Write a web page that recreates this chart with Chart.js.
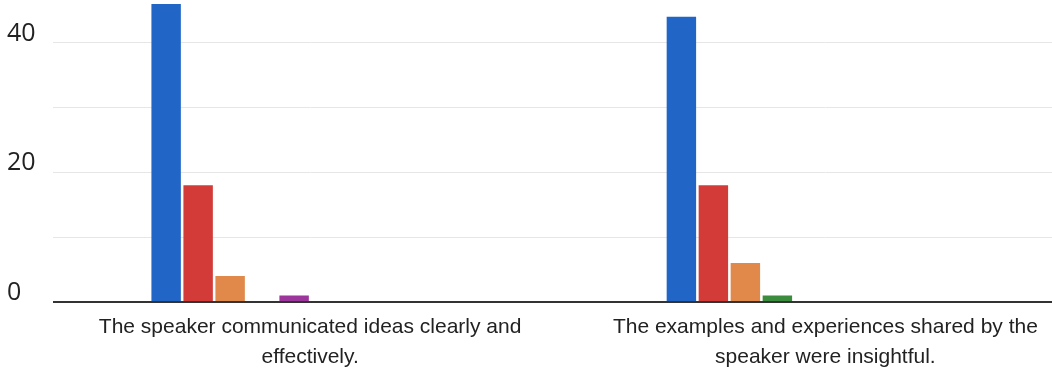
<!DOCTYPE html>
<html>
<head>
<meta charset="utf-8">
<script src="https://cdn.jsdelivr.net/npm/chart.js@4/dist/chart.umd.min.js"></script>
<style>
    html, body { margin: 0; padding: 0; background: #fff; overflow: hidden; width: 1052px; height: 370px; }
    /* the reference is a crop of a wider chart, so the canvas runs past the window */
    #wrap { position: absolute; left: 0; top: -42px; width: 1083px; height: 416px; }
</style>
</head>
<body>
<div id="wrap"><canvas id="surveyChart"></canvas></div>
<script>
const categories = [
    ['The speaker communicated ideas clearly and', 'effectively.'],
    ['The examples and experiences shared by the', 'speaker were insightful.']
];

const seriesNames = ['Option 1', 'Option 2', 'Option 3', 'Option 4', 'Option 5',
    'Option 6', 'Option 7', 'Option 8', 'Option 9', 'Option 10'];
const option1 = [46, 44];
const option2 = [18, 18];
const option3 = [4, 6];
const option4 = [0, 1];
const option5 = [1, 0];
const option6 = [0, 0];
const option7 = [0, 0];
const option8 = [0, 0];
const option9 = [0, 0];
const option10 = [0, 0];

const yTicks = [0, 20, 40];

const seriesValues = [option1, option2, option3, option4, option5, option6, option7, option8, option9, option10];
const seriesColors = ['#2166c6', '#d33b39', '#e0894a', '#3b8c3c', '#9c359c',
    '#0099c6', '#dd4477', '#66aa00', '#b82e2e', '#316395'];

const ctx = document.getElementById('surveyChart').getContext('2d');

new Chart(ctx, {
    type: 'bar',
    data: {
        labels: categories,
        datasets: seriesValues.map((vals, i) => ({
            label: seriesNames[i],
            data: vals,
            backgroundColor: seriesColors[i],
            borderWidth: 0,
            categoryPercentage: 0.621,
            barPercentage: 0.92
        }))
    },
    options: {
        responsive: true,
        maintainAspectRatio: false,
        animation: false,
        layout: { padding: { left: 7, top: 20, right: 0, bottom: 0 } },
        plugins: { legend: { display: false }, tooltip: { enabled: false } },
        scales: {
            x: {
                grid: { display: false },
                border: { display: false },
                ticks: {
                    color: '#222',
                    autoSkip: false,
                    maxRotation: 0,
                    padding: 2,
                    font: { family: '"Liberation Sans", Arial, sans-serif', size: 21, lineHeight: 1.43 }
                }
            },
            y: {
                min: 0,
                max: 50,
                border: { display: false },
                grid: {
                    drawTicks: false,
                    color: c => c.tick && c.tick.value === 0 ? '#333' : '#e6e6e6',
                    lineWidth: c => c.tick && c.tick.value === 0 ? 2 : 1
                },
                afterFit: (scale) => { scale.width = 45.5; },
                ticks: {
                    stepSize: 10,
                    crossAlign: 'far',
                    labelOffset: -9,
                    color: '#222',
                    font: { family: '"Open Sans", sans-serif', size: 25 },
                    callback: (v) => yTicks.includes(v) ? v : ''
                }
            }
        }
    }
});
</script>
</body>
</html>
